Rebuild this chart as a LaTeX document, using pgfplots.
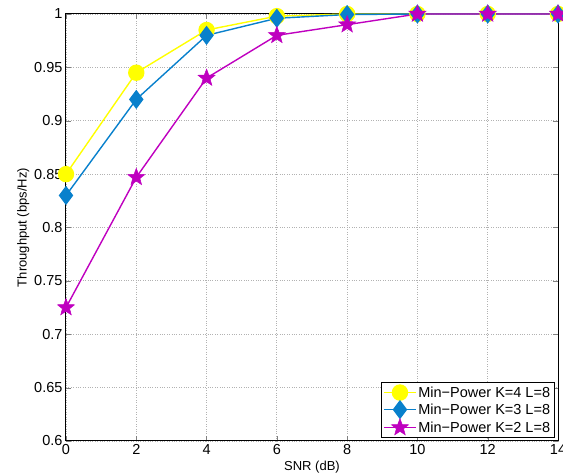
\documentclass[border=0pt]{standalone}
\usepackage{fontspec}
\setmainfont{Liberation Sans}
\usepackage{pgfplots}
\pgfplotsset{compat=1.18}

\definecolor{kfour}{rgb}{1,1,0}
\definecolor{kthree}{rgb}{0.03,0.50,0.80}
\definecolor{ktwo}{rgb}{0.75,0,0.75}

% filled five-pointed star
\pgfdeclareplotmark{fstar}{%
  \pgfpathmoveto{\pgfpointpolar{90}{\pgfplotmarksize}}%
  \pgfpathlineto{\pgfpointpolar{126}{0.42\pgfplotmarksize}}%
  \pgfpathlineto{\pgfpointpolar{162}{\pgfplotmarksize}}%
  \pgfpathlineto{\pgfpointpolar{198}{0.42\pgfplotmarksize}}%
  \pgfpathlineto{\pgfpointpolar{234}{\pgfplotmarksize}}%
  \pgfpathlineto{\pgfpointpolar{270}{0.42\pgfplotmarksize}}%
  \pgfpathlineto{\pgfpointpolar{306}{\pgfplotmarksize}}%
  \pgfpathlineto{\pgfpointpolar{342}{0.42\pgfplotmarksize}}%
  \pgfpathlineto{\pgfpointpolar{18}{\pgfplotmarksize}}%
  \pgfpathlineto{\pgfpointpolar{54}{0.42\pgfplotmarksize}}%
  \pgfpathclose
  \pgfusepathqfillstroke}

\begin{document}
\begin{tikzpicture}
\path[use as bounding box] (-66pt,-32pt) rectangle (497pt,441pt);
\begin{axis}[
    scale only axis,
    width=492pt, height=427pt,
    xmin=0, xmax=14, ymin=0.6, ymax=1,
    xtick={0,2,...,14},
    ytick={0.6,0.65,...,1.0},
    yticklabels={0.6,0.65,0.7,0.75,0.8,0.85,0.9,0.95,1},
    /pgf/number format/assume math mode=true,
    tick label style={font=\fontsize{14.5}{16}\selectfont},
    label style={font=\fontsize{13}{15}\selectfont},
    xlabel={SNR (dB)},
    ylabel={Throughput (bps/Hz)},
    xlabel style={yshift=1pt},
    ylabel style={yshift=-2pt},
    tick align=inside,
    major tick length=5pt,
    grid=major,
    major grid style={dotted, gray!60, line width=0.8pt},
    axis line style={line width=1pt},
    legend style={font=\fontsize{14.5}{16}\selectfont, draw=black, line width=0.9pt,
        at={(0.993,0.007)}, anchor=south east, inner sep=2pt, row sep=0.5pt},
    legend cell align=left,
    legend image code/.code={
        \draw[mark repeat=2,mark phase=2] plot coordinates {(0cm,0cm)(0.55cm,0cm)(1.1cm,0cm)};
    },
]
\addplot[kfour, line width=1.4pt, mark=*, mark size=7.5pt, mark options={fill=kfour, draw=kfour}] coordinates {
    (0,0.85) (2,0.945) (4,0.985) (6,0.998) (8,1.0) (10,1.0) (12,1.0) (14,1.0)
};
\addlegendentry{Min\textminus Power K=4 L=8}
\addplot[kthree, line width=1.4pt, mark=diamond*, mark size=8.5pt, mark options={fill=kthree, draw=kthree}] coordinates {
    (0,0.83) (2,0.92) (4,0.98) (6,0.996) (8,0.9995) (10,1.0) (12,1.0) (14,1.0)
};
\addlegendentry{Min\textminus Power K=3 L=8}
\addplot[ktwo, line width=1.4pt, mark=fstar, mark size=9pt, mark options={fill=ktwo, draw=ktwo, line width=0.5pt}] coordinates {
    (0,0.725) (2,0.847) (4,0.94) (6,0.98) (8,0.99) (10,1.0) (12,1.0) (14,1.0)
};
\addlegendentry{Min\textminus Power K=2 L=8}
\end{axis}
\end{tikzpicture}
\end{document}
